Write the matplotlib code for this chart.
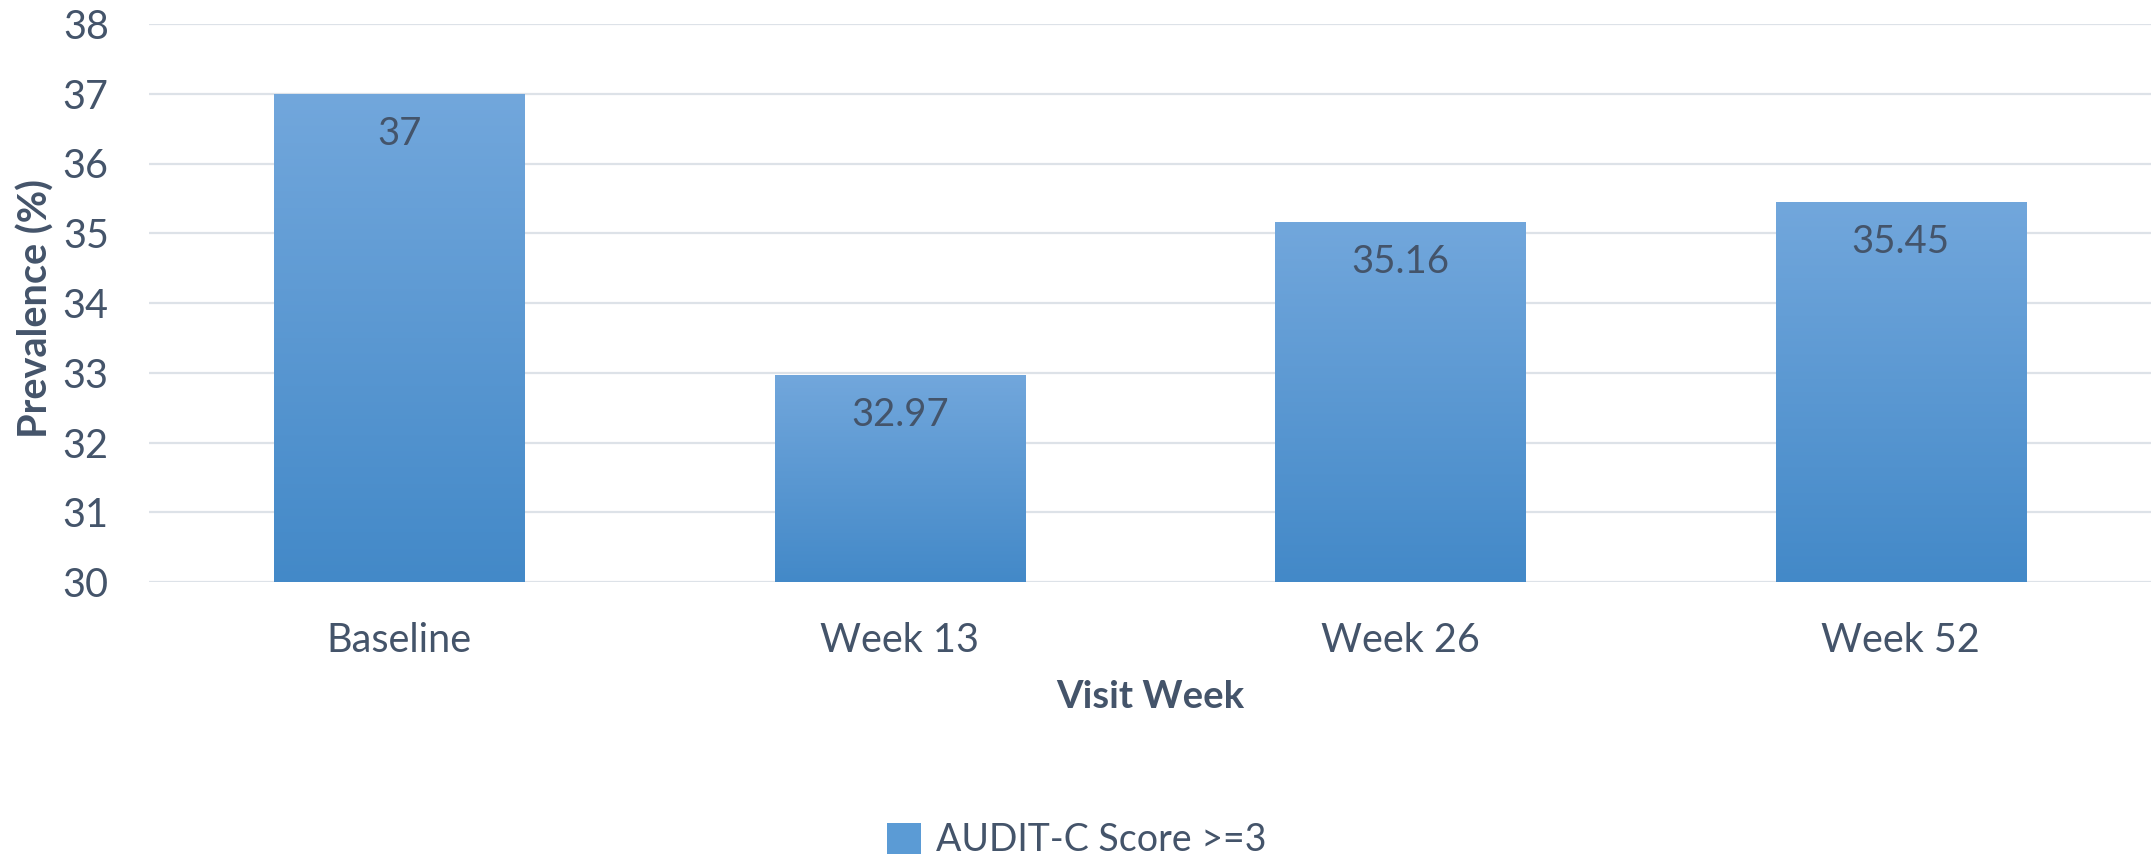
import matplotlib
matplotlib.use("Agg")
import matplotlib.pyplot as plt
import numpy as np
from matplotlib.colors import LinearSegmentedColormap
from matplotlib.patches import Patch

categories = ["Baseline", "Week 13", "Week 26", "Week 52"]
values = [37, 32.97, 35.16, 35.45]
value_labels = ["37", "32.97", "35.16", "35.45"]
yticks = [30, 31, 32, 33, 34, 35, 36, 37, 38]
series_name = "AUDIT-C Score >=3"

TEXT = "#44546A"
GRID = "#DDE2E8"
TOP_C = "#72A7DC"
BOT_C = "#4389C8"

plt.rcParams["font.family"] = ["Lato", "DejaVu Sans"]

fig = plt.figure(figsize=(21.53, 8.56), dpi=100)
ax = fig.add_axes([149 / 2153, 1 - 582 / 856, 2002 / 2153, 558 / 856])

x = np.arange(len(categories))
bars = ax.bar(x, [v - 30 for v in values], bottom=30, width=0.5,
              color=BOT_C, zorder=2, linewidth=0)

cmap = LinearSegmentedColormap.from_list("g", [BOT_C, TOP_C])
grad = np.linspace(0, 1, 256).reshape(-1, 1)
for b in bars:
    x0, y0 = b.get_x(), b.get_y()
    w, h = b.get_width(), b.get_height()
    im = ax.imshow(grad, extent=[x0, x0 + w, y0, y0 + h], origin="lower",
                   cmap=cmap, aspect="auto", zorder=3)
    im.set_clip_path(b)

for xi, v, lab in zip(x, values, value_labels):
    ax.annotate(lab, (xi, v), xytext=(0, -40), textcoords="offset pixels",
                ha="center", va="center", fontsize=27.5, color=TEXT, zorder=5)

ax.set_xlim(-0.5, len(categories) - 0.5)
ax.set_ylim(30, 38)
ax.set_yticks(yticks)
ax.set_xticks(x)
ax.set_xticklabels(categories)
ax.grid(axis="y", color=GRID, linewidth=1.6, zorder=0)
ax.set_axisbelow(True)
for s in ax.spines.values():
    s.set_visible(False)
ax.tick_params(axis="both", length=0, labelsize=28.5, labelcolor=TEXT)
ax.tick_params(axis="y", pad=29)
ax.tick_params(axis="x", pad=29)

ax.set_ylabel("Prevalence (%)", fontsize=28.5, fontweight="bold", color=TEXT)
ax.yaxis.set_label_coords(-0.047, 0.49)
ax.set_xlabel("Visit Week", fontsize=27.5, fontweight="bold", color=TEXT)
ax.xaxis.set_label_coords(0.5, -0.175)

handle = Patch(facecolor="#5B9BD5", edgecolor="none")
fig.legend([handle], [series_name], loc="center", bbox_to_anchor=(0.5, 1 - 840 / 856),
           frameon=False, fontsize=27, labelcolor=TEXT, handlelength=0.9,
           handleheight=0.9, handletextpad=0.4)

fig.savefig("out.png", dpi=100)
